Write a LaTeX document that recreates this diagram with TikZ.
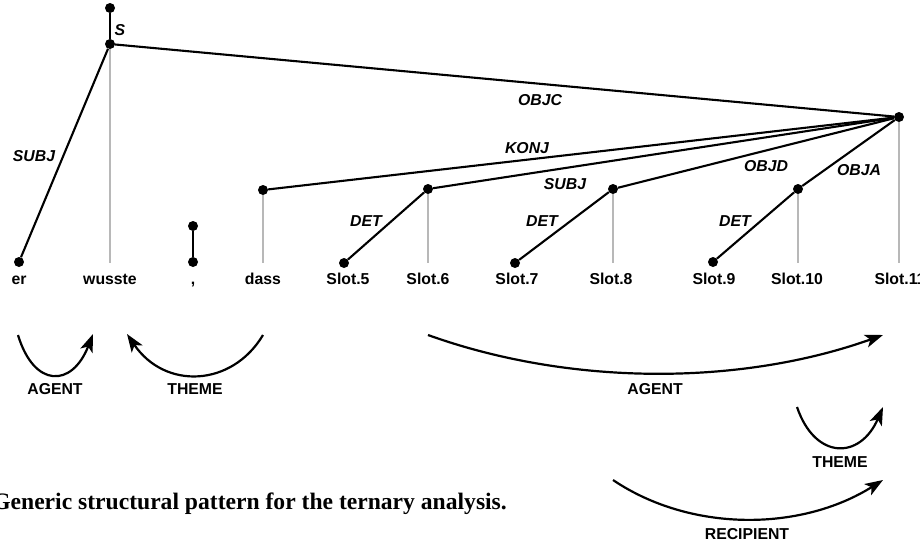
\documentclass[tikz,border=0pt]{standalone}
\usepackage{fontspec}
\setmainfont{Liberation Sans}
\newfontfamily\capfont{Liberation Serif}
\usetikzlibrary{arrows.meta}
\begin{document}
\begin{tikzpicture}[x=1pt,y=-1pt,
  dot/.style={circle,fill=black,inner sep=0pt,minimum size=10pt},
  word/.style={font=\fontsize{15.8}{18}\selectfont\bfseries,anchor=base,inner sep=0pt},
  rel/.style={font=\fontsize{15.8}{18}\selectfont\bfseries\itshape,inner sep=0pt},
  role/.style={font=\fontsize{15.8}{18}\selectfont\bfseries,anchor=base,inner sep=0pt},
  dep/.style={line width=2.1pt,black},
  proj/.style={line width=2pt,black!28},
  rolearc/.style={line width=2.2pt,-{Stealth[length=18pt,width=13pt,inset=4.5pt]}}
]
\useasboundingbox (0,0) rectangle (920,544);

% projection lines from the heads down to the word row
\coordinate (p2) at (110,263);
\coordinate (p4) at (263,263);
\coordinate (p6) at (428,263);
\coordinate (p8) at (613,263);
\coordinate (p10) at (798,263);
\coordinate (p11) at (899,263);

% dependency nodes
\node[dot] (top) at (110,8) {};
\node[dot] (s) at (110,44) {};
\node[dot] (d1) at (19,262) {};
\node[dot] (c1) at (193,226) {};
\node[dot] (c2) at (193,262) {};
\node[dot] (d4) at (263,190) {};
\node[dot] (d5) at (344,263) {};
\node[dot] (d6) at (428,189) {};
\node[dot] (d7) at (515,263) {};
\node[dot] (d8) at (613,189) {};
\node[dot] (d9) at (713,262) {};
\node[dot] (d10) at (798,189) {};
\node[dot] (d11) at (899,117) {};

\draw[proj] (s) -- (p2);
\draw[proj] (d4) -- (p4);
\draw[proj] (d6) -- (p6);
\draw[proj] (d8) -- (p8);
\draw[proj] (d10) -- (p10);
\draw[proj] (d11) -- (p11);

% dependency edges
\draw[dep] (top) -- (s);
\draw[dep] (s) -- (d1);
\draw[dep] (s) -- (d11);
\draw[dep] (c1) -- (c2);
\draw[dep] (d4) -- (d11);
\draw[dep] (d5) -- (d6);
\draw[dep] (d6) -- (d11);
\draw[dep] (d7) -- (d8);
\draw[dep] (d8) -- (d11);
\draw[dep] (d9) -- (d10);
\draw[dep] (d10) -- (d11);

% edge labels
\node[rel] (ls) at (120,30) {S};
\node[rel] (lsubj1) at (34,156) {SUBJ};
\node[rel] (lobjc) at (540,100) {OBJC};
\node[rel] (lkonj) at (527,148) {KONJ};
\node[rel] (lsubj2) at (565,184) {SUBJ};
\node[rel] (ldet1) at (366,221) {DET};
\node[rel] (ldet2) at (542,221) {DET};
\node[rel] (ldet3) at (735,221) {DET};
\node[rel] (lobjd) at (766,166) {OBJD};
\node[rel] (lobja) at (859,170) {OBJA};

% words
\node[word] (w1) at (19,284) {er};
\node[word] (w2) at (110,284) {wusste};
\node[word] (w3) at (193,284) {,};
\node[word] (w4) at (263,284) {dass};
\node[word] (w5) at (348,284) {Slot.5};
\node[word] (w6) at (428,284) {Slot.6};
\node[word] (w7) at (517,284) {Slot.7};
\node[word] (w8) at (611,284) {Slot.8};
\node[word] (w9) at (714,284) {Slot.9};
\node[word] (w10) at (797,284) {Slot.10};
\node[word] (w11) at (900,284) {Slot.11};

% semantic role arcs
\coordinate (a1s) at (18,335);   \coordinate (a1e) at (93,334);
\coordinate (a2s) at (263,335);  \coordinate (a2e) at (127,334);
\coordinate (a3s) at (428,335);  \coordinate (a3e) at (883,335);
\coordinate (a4s) at (797,407);  \coordinate (a4e) at (883,407);
\coordinate (a5s) at (613,480);  \coordinate (a5e) at (883,480);

\draw[rolearc] (a1s) .. controls (34,388) and (72,388) .. (a1e);
\draw[rolearc] (a2s) .. controls (232,387) and (165,390) .. (a2e);
\draw[rolearc] (a3s) .. controls (570,386) and (740,386) .. (a3e);
\draw[rolearc] (a4s) .. controls (815,460) and (860,460) .. (a4e);
\draw[rolearc] (a5s) .. controls (690,532) and (800,532) .. (a5e);

\node[role] (r1) at (55,394) {AGENT};
\node[role] (r2) at (195,394) {THEME};
\node[role] (r3) at (655,394) {AGENT};
\node[role] (r4) at (840,467) {THEME};
\node[role] (r5) at (747,539) {RECIPIENT};

% caption
\node[anchor=base east,inner sep=0pt,font=\capfont\fontsize{23.6}{28}\selectfont\bfseries] (cap) at (507,509) {Generic structural pattern for the ternary analysis.};
\end{tikzpicture}
\end{document}
